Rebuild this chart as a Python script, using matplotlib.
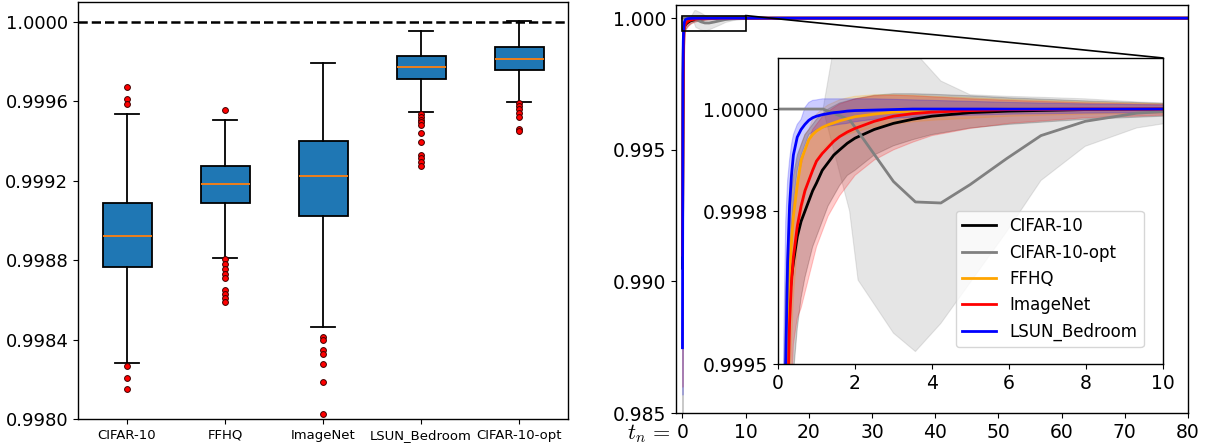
import numpy as np
import matplotlib
matplotlib.use('Agg')
import matplotlib.pyplot as plt
from matplotlib.patches import Rectangle, ConnectionPatch

plt.rcParams.update({
    'font.family': 'DejaVu Sans',
    'mathtext.fontset': 'cm',
    'axes.linewidth': 1.0,
})

# ── Left panel: box statistics ───────────────────────────────────────────────
BOX_LABELS = ['CIFAR-10', 'FFHQ', 'ImageNet', 'LSUN_Bedroom', 'CIFAR-10-opt']
BOX_MED = [0.998924, 0.999183, 0.999223, 0.999772, 0.999815]
BOX_Q1 = [0.998763, 0.999087, 0.999020, 0.999710, 0.999758]
BOX_Q3 = [0.999087, 0.999272, 0.999398, 0.999827, 0.999871]
BOX_WLO = [0.998284, 0.998810, 0.998463, 0.999545, 0.999597]
BOX_WHI = [0.999535, 0.999507, 0.999792, 0.999955, 1.0000067]
BOX_FLIERS = [
    [0.999674, 0.999609, 0.999586, 0.998267, 0.998206, 0.998149],
    [0.999555, 0.998807, 0.998782, 0.998753, 0.998732, 0.998711,
     0.998648, 0.998628, 0.998609, 0.998589],
    [0.998413, 0.998399, 0.998346, 0.998329, 0.998275, 0.998185, 0.998025],
    [0.999537, 0.999523, 0.999508, 0.999495, 0.999482, 0.999441,
     0.999396, 0.999327, 0.999312, 0.999294, 0.999272],
    [0.999591, 0.999574, 0.999562, 0.999540, 0.999520, 0.999458, 0.999450],
]

# ── Right panel: curves over t_n ─────────────────────────────────────────────
T = [0.02, 0.1, 0.15, 0.2, 0.25, 0.3, 0.35, 0.4, 0.5, 0.6, 0.7, 0.8, 0.9,
     1.0, 1.15, 1.3, 1.45, 1.6, 1.8, 2.0, 2.5, 3.0, 3.5, 4.0, 5.0, 6.0,
     8.0, 10.0, 20.0, 40.0, 80.0]

CIFAR_MEAN = [0.9905, 0.9962, 0.9985, 0.99948, 0.99957, 0.99963, 0.99967,
              0.99970, 0.99975, 0.99978, 0.99980, 0.99982, 0.99984, 0.999855,
              0.99988, 0.999895, 0.99991, 0.99992, 0.999933, 0.999943,
              0.99996, 0.999972, 0.99998, 0.999986, 0.999993, 0.999996,
              0.999999, 1.0, 1.0, 1.0, 1.0]
CIFAR_LO = [0.984, 0.991, 0.995, 0.9975, 0.9985, 0.9990, 0.99930, 0.99948,
            0.99957, 0.99963, 0.99967, 0.99970, 0.99973, 0.99975, 0.99978,
            0.99981, 0.99983, 0.99985, 0.99987, 0.99988, 0.99991, 0.999928,
            0.99994, 0.99995, 0.999963, 0.99997, 0.99998, 0.999986,
            0.999994, 0.999997, 0.999999]
CIFAR_HI = [0.9965, 0.9990, 0.99945, 0.99965, 0.99974, 0.99980, 0.99984,
            0.99987, 0.99991, 0.99993, 0.99995, 0.99996, 0.99997, 0.99998,
            0.99999, 1.0, 1.000006, 1.000012, 1.000016, 1.00002, 1.000027,
            1.00003, 1.00003, 1.000029, 1.000026, 1.000022, 1.000016,
            1.000011, 1.000005, 1.000002, 1.000001]

FFHQ_MEAN = [0.992, 0.9970, 0.99880, 0.99940, 0.99958, 0.99968, 0.99974,
             0.99979, 0.99985, 0.99990, 0.99992, 0.99994, 0.99995, 0.999957,
             0.999964, 0.999969, 0.999973, 0.999977, 0.999981, 0.999985,
             0.99999, 0.999994, 0.999996, 0.999998, 0.999999, 1.0, 1.0, 1.0,
             1.0, 1.0, 1.0]
FFHQ_LO = [0.988, 0.9945, 0.9975, 0.9986, 0.99915, 0.99940, 0.99954, 0.99963,
           0.99973, 0.99979, 0.99983, 0.99986, 0.99988, 0.99990, 0.99992,
           0.99993, 0.999938, 0.999945, 0.99995, 0.999955, 0.999965,
           0.99997, 0.999975, 0.999978, 0.999982, 0.999986, 0.99999,
           0.999992, 0.999996, 0.999998, 0.999999]
FFHQ_HI = [0.9945, 0.9988, 0.99935, 0.99962, 0.99972, 0.99978, 0.99983,
           0.99986, 0.99990, 0.99993, 0.99995, 0.99996, 0.99998, 0.99999,
           1.0, 1.000008, 1.000013, 1.000018, 1.000022, 1.000025, 1.000028,
           1.000028, 1.000027, 1.000025, 1.000022, 1.000019, 1.000014,
           1.00001, 1.000005, 1.000002, 1.000001]

IMNET_MEAN = [0.991, 0.9958, 0.9978, 0.99890, 0.99942, 0.99958, 0.99966,
              0.99971, 0.99977, 0.99981, 0.99984, 0.99986, 0.99988, 0.999898,
              0.999913, 0.999925, 0.999937, 0.999946, 0.999955, 0.999962,
              0.999976, 0.999986, 0.999991, 0.999994, 0.999997, 0.999999,
              1.0, 1.0, 1.0, 1.0, 1.0]
IMNET_LO = [0.986, 0.9925, 0.9955, 0.9975, 0.9986, 0.99915, 0.99945,
            0.99954, 0.99959, 0.99961, 0.99964, 0.99967, 0.99970, 0.99973,
            0.99976, 0.99979, 0.99981, 0.99983, 0.99985, 0.99987, 0.99990,
            0.99992, 0.999935, 0.999948, 0.999962, 0.999972, 0.999983,
            0.999988, 0.999995, 0.999998, 0.999999]
IMNET_HI = [0.9940, 0.9984, 0.9991, 0.99950, 0.99963, 0.99971, 0.99977,
            0.99981, 0.99986, 0.99989, 0.99992, 0.99994, 0.99996, 0.99997,
            0.999985, 0.999995, 1.000003, 1.00001, 1.000015, 1.00002,
            1.000026, 1.000027, 1.000026, 1.000024, 1.00002, 1.000017,
            1.000012, 1.000009, 1.000005, 1.000002, 1.000001]

LSUN_MEAN = [0.98748, 0.9978, 0.99910, 0.99950, 0.99970, 0.99981, 0.99987,
             0.99991, 0.999945, 0.99996, 0.99997, 0.999978, 0.999983,
             0.999986, 0.999989, 0.999991, 0.999993, 0.999994, 0.999996,
             0.999997, 0.999998, 0.999999, 1.0, 1.0, 1.0, 1.0, 1.0, 1.0,
             1.0, 1.0, 1.0]
LSUN_LO = [0.9857, 0.9960, 0.9980, 0.99905, 0.99945, 0.99965, 0.99976,
           0.99982, 0.99988, 0.99991, 0.99993, 0.99995, 0.999955, 0.99996,
           0.999963, 0.999966, 0.999968, 0.99997, 0.999972, 0.999975,
           0.99998, 0.999982, 0.999984, 0.999986, 0.999988, 0.99999,
           0.999992, 0.999993, 0.999996, 0.999998, 0.999999]
LSUN_HI = [0.9890, 0.99910, 0.99955, 0.99978, 0.99986, 0.99990, 0.99993,
           0.99995, 0.99997, 0.99998, 1.000003, 1.000013, 1.000017,
           1.000018, 1.00002, 1.00002, 1.00002, 1.00002, 1.00002, 1.00002,
           1.00002, 1.000019, 1.000018, 1.000017, 1.000015, 1.000013,
           1.00001, 1.000008, 1.000004, 1.000002, 1.000001]

T_OPT = [0.0, 1.17, 1.86, 2.08, 3.0, 3.57, 4.23, 4.99, 5.94, 6.83, 7.98,
         9.32, 10.0, 20.0, 40.0, 80.0]
OPT_MEAN = [1.0, 1.0, 0.999979, 0.999956, 0.999858, 0.999818, 0.999816,
            0.999852, 0.999903, 0.999948, 0.999976, 0.999992, 0.999995,
            0.999999, 1.0, 1.0]
OPT_LO = [1.0, 1.0, 0.99980, 0.999665, 0.999561, 0.999525, 0.99958, 0.99966,
          0.99976, 0.99986, 0.999927, 0.999963, 0.999971, 0.999992,
          0.999998, 1.0]
OPT_HI = [1.0, 1.0, 1.0003, 1.00031, 1.0002, 1.00011, 1.000055, 1.000028,
          1.000025, 1.000023, 1.00002, 1.000014, 1.000012, 1.000005,
          1.000002, 1.0]

SERIES = [
    ('CIFAR-10', 'black', T, CIFAR_MEAN, CIFAR_LO, CIFAR_HI),
    ('CIFAR-10-opt', 'grey', T_OPT, OPT_MEAN, OPT_LO, OPT_HI),
    ('FFHQ', 'orange', T, FFHQ_MEAN, FFHQ_LO, FFHQ_HI),
    ('ImageNet', 'red', T, IMNET_MEAN, IMNET_LO, IMNET_HI),
    ('LSUN_Bedroom', 'blue', T, LSUN_MEAN, LSUN_LO, LSUN_HI),
]


def draw_curves(ax, lw):
    for _, color, t, _, lo, hi in SERIES:
        ax.fill_between(t, lo, hi, color=color, alpha=0.2, linewidth=0.8)
    handles = []
    for label, color, t, mean, _, _ in SERIES:
        h, = ax.plot(t, mean, color=color, linewidth=lw, label=label)
        handles.append(h)
    return handles


fig = plt.figure(figsize=(12.07, 4.48), dpi=100)

# ── Left: box plot ───────────────────────────────────────────────────────────
ax1 = fig.add_axes([78 / 1207, 29 / 448, 490 / 1207, 417 / 448])
stats = []
for i, lab in enumerate(BOX_LABELS):
    stats.append({
        'label': lab, 'med': BOX_MED[i], 'q1': BOX_Q1[i], 'q3': BOX_Q3[i],
        'whislo': BOX_WLO[i], 'whishi': BOX_WHI[i], 'fliers': BOX_FLIERS[i],
    })
ax1.axhline(1.0, color='black', linestyle='--', linewidth=1.8, zorder=1)
ax1.bxp(stats, patch_artist=True, widths=0.5,
        boxprops=dict(facecolor='#1f77b4', edgecolor='black', linewidth=1.3),
        medianprops=dict(color='#ff7f0e', linewidth=1.3),
        whiskerprops=dict(color='black', linewidth=1.3),
        capprops=dict(color='black', linewidth=1.3),
        flierprops=dict(marker='o', markerfacecolor='red',
                        markeredgecolor='#400000', markersize=4.2,
                        markeredgewidth=0.7))
ax1.set_xlim(0.5, 5.5)
ax1.set_ylim(0.9980, 1.0001)
left_ticks = [0.9980, 0.9984, 0.9988, 0.9992, 0.9996, 1.0000]
ax1.set_yticks(left_ticks)
ax1.set_yticklabels([f'{v:.4f}' for v in left_ticks])
ax1.tick_params(axis='y', labelsize=13)
ax1.tick_params(axis='x', labelsize=9.5)

# ── Right: curves with zoomed inset ──────────────────────────────────────────
ax2 = fig.add_axes([676 / 1207, 35 / 448, 512 / 1207, 408 / 448])
draw_curves(ax2, 2.0)
ax2.set_xlim(-1, 80)
ax2.set_ylim(0.985, 1.0005)
ax2.set_yticks([0.985, 0.990, 0.995, 1.000])
ax2.set_yticklabels(['0.985', '0.990', '0.995', '1.000'])
ax2.set_xticks(range(0, 81, 10))
ax2.tick_params(labelsize=13.5)
ax2.annotate(r'$t_n\,=$', xy=(0, 0), xycoords=ax2.get_xaxis_transform(),
             xytext=(-8, -19), textcoords='offset points',
             ha='right', va='baseline', fontsize=16)

axins = fig.add_axes([778 / 1207, 83.7 / 448, 385 / 1207, 306.3 / 448])
handles = draw_curves(axins, 2.0)
axins.set_xlim(0, 10)
axins.set_ylim(0.9995, 1.0001)
axins.set_yticks([0.9995, 0.9998, 1.0000])
axins.set_yticklabels(['0.9995', '0.9998', '1.0000'])
axins.set_xticks(range(0, 11, 2))
axins.tick_params(labelsize=13.5)
axins.legend(handles=handles, loc='lower right', bbox_to_anchor=(0.95, 0.055),
             borderaxespad=0, fontsize=12, framealpha=0.8)

ax2.add_patch(Rectangle((0, 0.9995), 10, 0.0006, fill=False,
                        edgecolor='black', linewidth=1.2, zorder=5))
con = ConnectionPatch(xyA=(10, 1.0001), coordsA=ax2.transData,
                      xyB=(1, 1), coordsB=axins.transAxes,
                      color='black', linewidth=1.2)
fig.add_artist(con)

fig.savefig('out.png', dpi=100)
